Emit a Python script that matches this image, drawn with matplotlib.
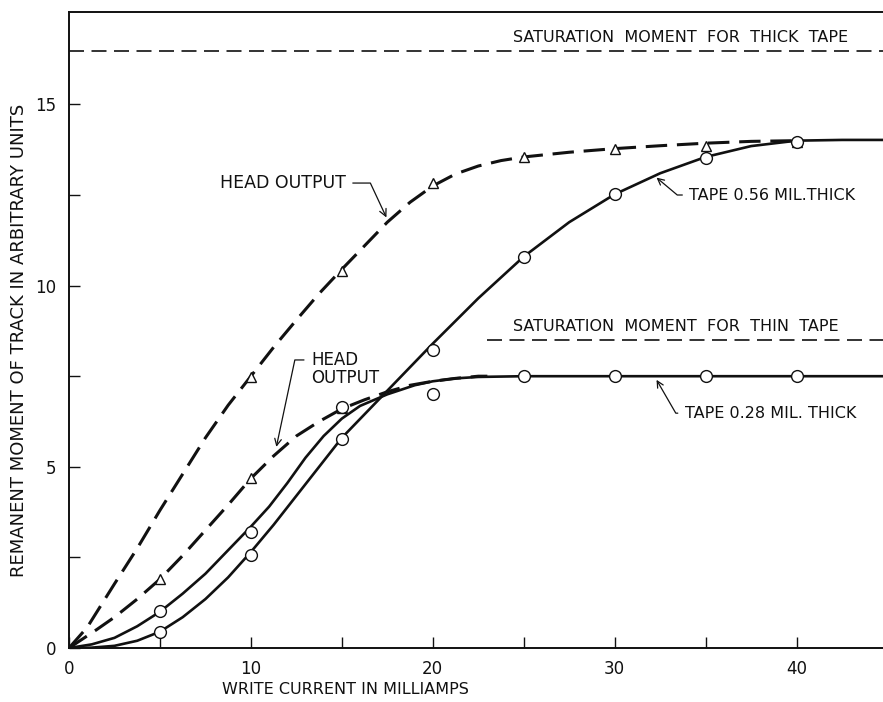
import matplotlib
matplotlib.use("Agg")
import matplotlib.pyplot as plt

# ---------------- data ----------------
# measured points
pts_x = [5, 10, 15, 20, 25, 30, 35, 40]
thick_pts_y = [0.45, 2.57, 5.78, 8.22, 10.78, 12.52, 13.53, 13.97]
thin_pts_y = [1.02, 3.21, 6.65, 7.0, 7.5, 7.5, 7.5, 7.5]

head_thick_tri_x = [10, 15, 20, 25, 30, 35, 40]
head_thick_tri_y = [7.48, 10.4, 12.82, 13.54, 13.76, 13.85, 13.97]
head_thin_tri_x = [5, 10, 15]
head_thin_tri_y = [1.9, 4.68, 6.62]

# drawn curves
thick_curve_x = [0, 1.25, 2.5, 3.75, 5, 6.25, 7.5, 8.75, 10, 11.25, 12.5, 13.75, 15,
                 16.25, 17.5, 18.75, 20, 22.5, 25, 27.5, 30, 32.5, 35, 37.5, 40, 42.5, 45]
thick_curve_y = [0, 0.01, 0.06, 0.2, 0.45, 0.85, 1.35, 1.95, 2.65, 3.4, 4.2, 5.0, 5.8,
                 6.45, 7.1, 7.75, 8.4, 9.65, 10.8, 11.75, 12.52, 13.1, 13.55, 13.85, 14.0, 14.02, 14.02]

thin_curve_x = [0, 1.25, 2.5, 3.75, 5, 6.25, 7.5, 8.75, 10, 11, 12, 13, 14, 15, 16,
                17.5, 19, 20, 21.25, 22.5, 25, 30, 35, 40, 45]
thin_curve_y = [0, 0.1, 0.28, 0.6, 1.0, 1.5, 2.05, 2.7, 3.35, 3.9, 4.55, 5.25, 5.85, 6.33, 6.68,
                7.0, 7.25, 7.36, 7.44, 7.48, 7.5, 7.5, 7.5, 7.5, 7.5]

head_thick_x = [0, 1, 2.5, 3.75, 5, 6.25, 7.5, 8.75, 10, 11.25, 12.5, 13.75, 15, 16.25, 17.5,
                18.75, 20, 21.25, 22.5, 23.75, 25, 27.5, 30, 32.5, 35, 37.5, 40]
head_thick_y = [0, 0.57, 1.77, 2.75, 3.8, 4.8, 5.8, 6.7, 7.5, 8.3, 9.05, 9.78, 10.45, 11.1, 11.75,
                12.3, 12.75, 13.08, 13.3, 13.45, 13.55, 13.68, 13.78, 13.86, 13.93, 13.98, 14.0]

head_thin_x = [0, 1.5, 2.5, 3.75, 5, 6.25, 7.5, 8.75, 10, 11.25, 12.5, 13.75, 15, 16.25,
               17.5, 18.75, 20, 21.25, 22.5, 23]
head_thin_y = [0, 0.5, 0.85, 1.35, 1.9, 2.55, 3.25, 3.95, 4.68, 5.3, 5.85, 6.25, 6.6, 6.85,
               7.07, 7.25, 7.36, 7.44, 7.5, 7.5]

sat_thick = 16.48
sat_thin = 8.5
sat_thin_start = 23

xticks = [0, 10, 20, 30, 40]
yticks = [0, 5, 10, 15]

# ---------------- figure ----------------
plt.rcParams['font.family'] = ['DejaVu Sans']
fig = plt.figure(figsize=(8.83, 7.02), dpi=100)
ax = fig.add_axes([69 / 883, 1 - 648 / 702, 1 - 69 / 883, (648 - 12) / 702])
ax.set_xlim(0, 44.75)
ax.set_ylim(0, 17.55)

ink = '#111111'

# saturation lines
ax.axhline(sat_thick, color=ink, lw=1.2, dashes=(9, 4.5))
ax.plot([sat_thin_start, 45], [sat_thin, sat_thin], color=ink, lw=1.2, dashes=(9, 4.5))

# curves
ax.plot(thick_curve_x, thick_curve_y, color=ink, lw=1.9, solid_joinstyle='round')
ax.plot(thin_curve_x, thin_curve_y, color=ink, lw=1.9, solid_joinstyle='round')
ax.plot(head_thick_x, head_thick_y, color=ink, lw=2.2, dashes=(7, 3.2))
ax.plot(head_thin_x, head_thin_y, color=ink, lw=2.2, dashes=(7, 3.2))

# markers
ax.plot(head_thick_tri_x, head_thick_tri_y, ls='none', marker='^', ms=6.5,
        mfc='white', mec=ink, mew=1.0, zorder=5)
ax.plot(head_thin_tri_x, head_thin_tri_y, ls='none', marker='^', ms=6.5,
        mfc='white', mec=ink, mew=1.0, zorder=5)
ax.plot(pts_x, thick_pts_y, ls='none', marker='o', ms=8.5,
        mfc='white', mec=ink, mew=1.0, zorder=6)
ax.plot(pts_x, thin_pts_y, ls='none', marker='o', ms=8.5,
        mfc='white', mec=ink, mew=1.0, zorder=6)

# texts
fs = 11.5
ax.text(24.4, 16.86, 'SATURATION  MOMENT  FOR  THICK  TAPE', fontsize=fs, va='center', ha='left', color=ink)
ax.text(24.4, 8.86, 'SATURATION  MOMENT  FOR  THIN  TAPE', fontsize=fs, va='center', ha='left', color=ink)

arrow = dict(arrowstyle='->', lw=0.9, color=ink, shrinkA=3, shrinkB=0)
a = dict(arrow); a.update(connectionstyle='angle,angleA=0,angleB=115,rad=0', relpos=(1, 0.5))
ax.annotate('HEAD OUTPUT', xy=(17.45, 11.88), xytext=(8.3, 12.83), fontsize=12.5,
            va='center', ha='left', color=ink, arrowprops=a)
a = dict(arrow); a.update(connectionstyle='angle,angleA=180,angleB=78,rad=0', relpos=(0, 0.75))
ax.annotate('HEAD\nOUTPUT', xy=(11.4, 5.55), xytext=(13.3, 7.7), fontsize=12,
            va='center', ha='left', color=ink, linespacing=1.0, arrowprops=a)
a = dict(arrow); a.update(connectionstyle='angle,angleA=180,angleB=-40,rad=0', relpos=(0, 0.5))
ax.annotate('TAPE 0.56 MIL.THICK', xy=(32.3, 12.98), xytext=(34.1, 12.5), fontsize=fs,
            va='center', ha='left', color=ink, arrowprops=a)
a = dict(arrow); a.update(connectionstyle='angle,angleA=180,angleB=-60,rad=0', relpos=(0, 0.5))
ax.annotate('TAPE 0.28 MIL. THICK', xy=(32.3, 7.4), xytext=(33.85, 6.48), fontsize=fs,
            va='center', ha='left', color=ink, arrowprops=a)

# axes styling
for s in ['left', 'bottom', 'top']:
    ax.spines[s].set_linewidth(1.4)
    ax.spines[s].set_color(ink)
ax.spines['right'].set_visible(False)

ax.set_xticks(xticks)
ax.set_yticks(yticks)
ax.set_xticks([5, 15, 25, 35], minor=True)
ax.set_yticks([2.5, 7.5, 12.5], minor=True)
ax.tick_params(which='both', direction='in', length=8, width=1.0, color=ink,
               labelsize=12, labelcolor=ink, top=False, right=False)
ax.tick_params(axis='x', which='major', pad=9)
ax.tick_params(axis='y', which='major', pad=9)

ax.set_xlabel('WRITE CURRENT IN MILLIAMPS', fontsize=fs, color=ink, va='center')
ax.xaxis.set_label_coords(0.339, -0.066)
ax.set_ylabel('REMANENT MOMENT OF TRACK IN ARBITRARY UNITS', fontsize=13, color=ink, va='center')
ax.yaxis.set_label_coords(-0.062, 0.484)

fig.savefig('out.png', dpi=100)
